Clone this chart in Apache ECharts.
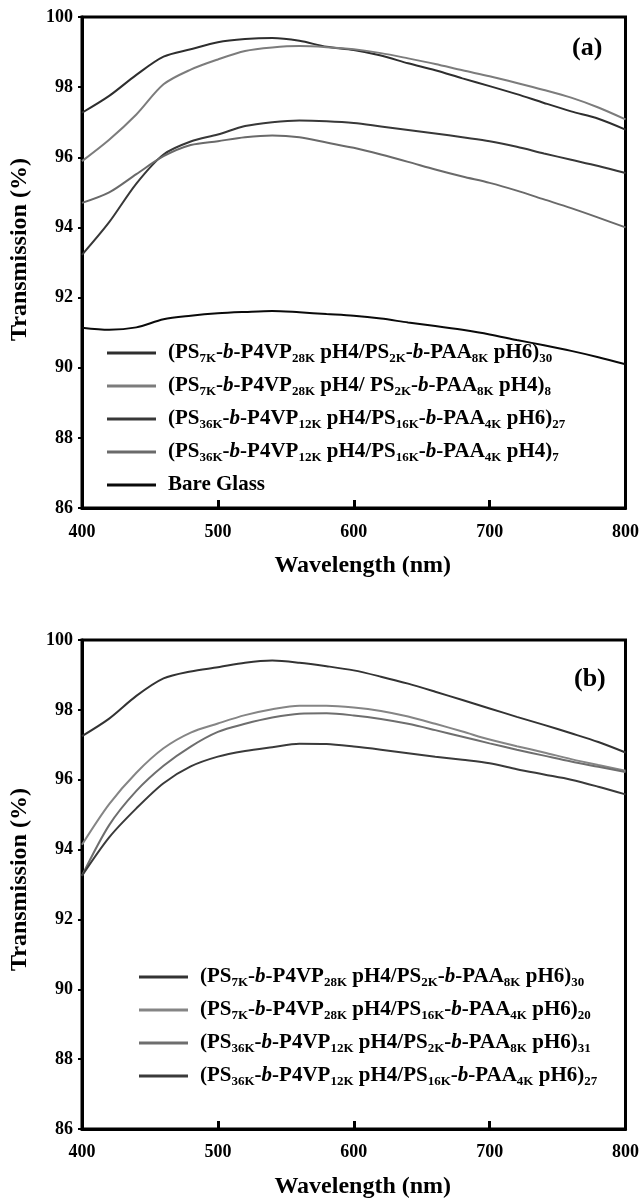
<!DOCTYPE html>
<html>
<head>
<meta charset="utf-8">
<script src="https://cdn.jsdelivr.net/npm/echarts@6/dist/echarts.min.js"></script>
<style>
html,body{margin:0;padding:0;background:#fff;}
#c{width:642px;height:1200px;}
</style>
</head>
<body>
<div id="c"></div>
<script>
// ---------- data ----------
var wavelength = [400,420,440,460,480,500,520,540,560,580,600,620,640,660,680,700,720,740,760,780,800];

// panel (a)
var namesA = [
  '(PS{s|7K}-{i|b}-P4VP{s|28K} pH4/PS{s|2K}-{i|b}-PAA{s|8K} pH6){s|30}',
  '(PS{s|7K}-{i|b}-P4VP{s|28K} pH4/ PS{s|2K}-{i|b}-PAA{s|8K} pH4){s|8}',
  '(PS{s|36K}-{i|b}-P4VP{s|12K} pH4/PS{s|16K}-{i|b}-PAA{s|4K} pH6){s|27}',
  '(PS{s|36K}-{i|b}-P4VP{s|12K} pH4/PS{s|16K}-{i|b}-PAA{s|4K} pH4){s|7}',
  'Bare Glass'
];
var a1 = [97.27,97.75,98.35,98.87,99.08,99.28,99.37,99.40,99.32,99.15,99.06,98.90,98.68,98.48,98.25,98.03,97.80,97.55,97.31,97.10,96.79];
var a2 = [95.89,96.50,97.22,98.08,98.50,98.79,99.03,99.13,99.17,99.14,99.08,98.97,98.82,98.66,98.48,98.31,98.12,97.92,97.70,97.42,97.08];
var a3 = [93.22,94.15,95.25,96.08,96.45,96.65,96.89,97.00,97.05,97.03,96.98,96.88,96.78,96.68,96.57,96.46,96.30,96.11,95.93,95.75,95.55];
var a4 = [94.70,95.00,95.52,96.03,96.35,96.46,96.57,96.62,96.57,96.42,96.27,96.08,95.87,95.65,95.45,95.27,95.05,94.80,94.55,94.28,94.00];
var a5 = [91.14,91.08,91.15,91.38,91.48,91.55,91.59,91.62,91.58,91.53,91.48,91.40,91.29,91.19,91.08,90.95,90.79,90.64,90.48,90.30,90.10];

// panel (b)
var namesB = [
  '(PS{s|7K}-{i|b}-P4VP{s|28K} pH4/PS{s|2K}-{i|b}-PAA{s|8K} pH6){s|30} ',
  '(PS{s|7K}-{i|b}-P4VP{s|28K} pH4/PS{s|16K}-{i|b}-PAA{s|4K} pH6){s|20}',
  '(PS{s|36K}-{i|b}-P4VP{s|12K} pH4/PS{s|2K}-{i|b}-PAA{s|8K} pH6){s|31}',
  '(PS{s|36K}-{i|b}-P4VP{s|12K} pH4/PS{s|16K}-{i|b}-PAA{s|4K} pH6){s|27} '
];
var b1 = [97.25,97.75,98.40,98.90,99.10,99.22,99.35,99.41,99.35,99.25,99.13,98.95,98.75,98.52,98.28,98.04,97.80,97.57,97.33,97.08,96.78];
var b2 = [94.14,95.30,96.20,96.90,97.35,97.61,97.85,98.02,98.12,98.12,98.07,97.97,97.81,97.60,97.38,97.15,96.96,96.78,96.59,96.42,96.26];
var b3 = [93.25,94.70,95.68,96.40,96.95,97.37,97.60,97.78,97.89,97.90,97.84,97.74,97.60,97.42,97.23,97.04,96.86,96.69,96.52,96.37,96.22];
var b4 = [93.25,94.35,95.18,95.90,96.38,96.66,96.82,96.93,97.03,97.02,96.95,96.86,96.76,96.66,96.57,96.47,96.30,96.15,96.00,95.80,95.58];

var xTicks = [400,500,600,700,800];
var yTicks = [86,88,90,92,94,96,98,100];

// ---------- styling ----------
var FONT = 'Liberation Serif';
var colorsA = ['#2e2e2e','#7c7c7c','#383838','#6a6a6a','#0a0a0a'];
var colorsB = ['#333333','#858585','#6e6e6e','#3a3a3a'];

function pairs(xs, ys){ return xs.map(function(x,i){ return [x, ys[i]]; }); }

var rich = {
  s: {fontFamily: FONT, fontWeight: 'bold', fontSize: 13, lineHeight: 13, verticalAlign: 'bottom', color: '#000'},
  i: {fontFamily: FONT, fontWeight: 'bold', fontStyle: 'italic', fontSize: 21, lineHeight: 24, color: '#000'}
};

function xAxisCfg(g){
  return {
    type: 'value', gridIndex: g, min: 400, max: 800, interval: 100,
    name: 'Wavelength (nm)', nameLocation: 'middle', nameGap: 46,
    nameTextStyle: {fontFamily: FONT, fontWeight: 'bold', fontSize: 24, color: '#000', padding: [0,0,0,18]},
    axisLine: {show: true, onZero: false, lineStyle: {color: '#000', width: 3}},
    axisTick: {show: true, inside: true, length: 8, lineStyle: {color: '#000', width: 3}},
    axisLabel: {fontFamily: FONT, fontWeight: 'bold', fontSize: 18, color: '#000', margin: g === 0 ? 15 : 14,
      customValues: xTicks},
    splitLine: {show: false}
  };
}
function yAxisCfg(g){
  return {
    type: 'value', gridIndex: g, min: 86, max: 100, interval: 2,
    name: 'Transmission (%)', nameLocation: 'middle', nameGap: 50,
    nameTextStyle: {fontFamily: FONT, fontWeight: 'bold', fontSize: 24, color: '#000',
      padding: g === 0 ? [0,0,0,26] : [0,0,0,10]},
    axisLine: {show: true, onZero: false, lineStyle: {color: '#000', width: 3}},
    axisTick: {show: true, inside: false, length: 4, lineStyle: {color: '#000', width: 2}},
    axisLabel: {fontFamily: FONT, fontWeight: 'bold', fontSize: 18, color: '#000', margin: 9},
    splitLine: {show: false}
  };
}
function legendCfg(names, left, top){
  return {
    data: names, orient: 'vertical', left: left, top: top, padding: 0,
    icon: 'rect', itemWidth: 49, itemHeight: 3, itemGap: 9,
    selectedMode: false,
    formatter: function(n){ return n; },
    textStyle: {fontFamily: FONT, fontWeight: 'bold', fontSize: 21, lineHeight: 24, color: '#000',
      padding: [0,0,0,7], rich: rich}
  };
}
function lineSeries(name, ys, color, g){
  return {
    type: 'line', name: name, xAxisIndex: g, yAxisIndex: g,
    data: pairs(wavelength, ys), smooth: 0.3, showSymbol: false, symbol: 'none',
    color: color, lineStyle: {color: color, width: 2}, silent: true, animation: false
  };
}

var seriesA = [a1,a2,a3,a4,a5];
var seriesB = [b1,b2,b3,b4];
var series = [];
seriesA.forEach(function(d,i){ series.push(lineSeries(namesA[i], d, colorsA[i], 0)); });
seriesB.forEach(function(d,i){ series.push(lineSeries(namesB[i], d, colorsB[i], 1)); });

var option = {
  backgroundColor: '#fff',
  animation: false,
  title: [
    {text: '(a)', left: 567, top: 30, textStyle: {fontFamily: FONT, fontWeight: 'bold', fontSize: 26, color: '#000'}},
    {text: '(b)', left: 569, top: 661, textStyle: {fontFamily: FONT, fontWeight: 'bold', fontSize: 26, color: '#000'}}
  ],
  grid: [
    {left: 82, right: 14, top: 17, height: 491, show: true, borderColor: '#000', borderWidth: 3, backgroundColor: 'transparent'},
    {left: 82, right: 14, top: 640, height: 491, show: true, borderColor: '#000', borderWidth: 3, backgroundColor: 'transparent'}
  ],
  xAxis: [xAxisCfg(0), xAxisCfg(1)],
  yAxis: [yAxisCfg(0), yAxisCfg(1)],
  legend: [legendCfg(namesA, 107, 341), legendCfg(namesB, 139, 965)],
  series: series
};

var chart = echarts.init(document.getElementById('c'), null, {renderer: 'canvas', width: 642, height: 1200});
chart.setOption(option);
</script>
</body>
</html>
